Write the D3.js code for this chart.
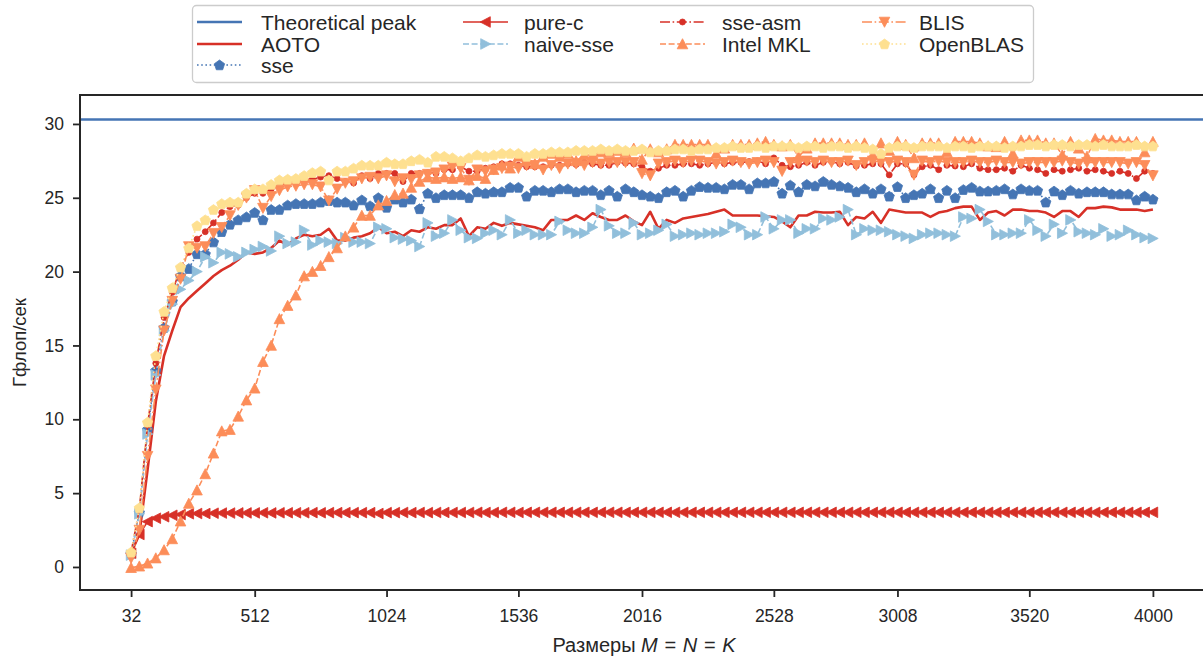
<!DOCTYPE html>
<html><head><meta charset="utf-8">
<script src="https://cdn.jsdelivr.net/npm/d3@7/dist/d3.min.js"></script>
<style>body{margin:0;background:#fff}svg{display:block;font-family:"Liberation Sans",Arial,sans-serif}</style>
</head><body><svg id="c" width="1203" height="659"></svg>
<script>
const sizes=[32,64,96,128,160,192,224,256,288,320,352,384,416,448,480,512,544,576,608,640,672,704,736,768,800,832,864,896,928,960,992,1024,1056,1088,1120,1152,1184,1216,1248,1280,1312,1344,1376,1408,1440,1472,1504,1536,1568,1600,1632,1664,1696,1728,1760,1792,1824,1856,1888,1920,1952,1984,2016,2048,2080,2112,2144,2176,2208,2240,2272,2304,2336,2368,2400,2432,2464,2496,2528,2560,2592,2624,2656,2688,2720,2752,2784,2816,2848,2880,2912,2944,2976,3008,3040,3072,3104,3136,3168,3200,3232,3264,3296,3328,3360,3392,3424,3456,3488,3520,3552,3584,3616,3648,3680,3712,3744,3776,3808,3840,3872,3904,3936,3968,4000];
const xTicks=[32,512,1024,1536,2016,2528,3008,3520,4000];
const yTicks=[0,5,10,15,20,25,30];
const theoreticalPeak=30.3;
const aoto=[0.95,2.2,6.6,11.2,14.3,16.0,17.6,18.2,18.7,19.2,
19.7,20.1,20.4,20.8,21.3,21.2,21.3,21.6,
22.1,21.8,22.25,22.5,22.4,22.5,22.9,22.1,22.1,22.3,22.4,22.6,23.0,22.6,22.7,22.4,22.8,22.7,23.0,22.9,23.15,23.15,23.6,
22.4,23.0,22.9,23.3,23.1,23.3,23.2,23.1,23.0,22.8,23.5,23.5,23.5,23.8,23.5,23.95,23.7,23.5,23.5,23.8,23.4,23.15,24.05,22.9,23.5,23.3,23.6,23.7,23.8,23.9,24.05,24.2,23.8,23.8,
23.8,23.8,23.75,23.7,23.4,23.0,23.8,23.8,24.05,24.0,24.0,24.05,23.15,23.7,23.6,24.05,23.3,24.2,24.1,24.0,24.0,24.0,23.7,24.0,24.1,24.3,24.4,24.4,23.5,24.0,24.1,23.8,24.2,24.2,24.1,24.1,24.0,23.7,24.1,24.1,23.7,24.3,24.3,24.4,24.35,24.2,24.2,24.2,24.1,24.2];
const sse=[0.9,3.7,9.3,13.3,16.2,18.0,19.7,20.2,21.2,21.2,
22.0,22.7,23.2,23.5,23.7,24.0,23.5,24.2,24.2,24.5,
24.6,24.6,24.6,24.7,24.8,24.7,24.7,24.5,24.85,24.45,
25.0,24.35,24.9,24.7,24.9,24.25,25.3,25.0,25.2,25.2,
25.2,25.0,25.4,25.3,25.4,25.4,25.7,25.7,25.1,25.5,
25.5,25.4,25.6,25.6,25.4,25.5,25.5,25.2,25.5,25.1,
25.6,25.4,25.2,25.1,25.0,25.4,25.5,25.1,25.5,25.75,
25.7,25.7,25.6,25.9,25.9,
25.6,26.0,26.0,26.1,25.3,25.85,25.4,25.9,25.8,26.1,25.9,25.8,25.7,25.4,25.6,25.3,25.6,25.1,25.75,25.0,25.2,25.3,25.6,25.0,25.5,25.0,25.55,25.7,25.45,25.45,25.5,25.6,25.25,25.6,25.5,25.5,24.7,25.45,25.2,25.5,25.3,25.4,25.4,25.4,25.25,25.25,25.25,24.85,25.1,24.9];
const pureC=[0.93,2.2,3.07,3.3,3.4,3.5,3.55,3.6,3.62,3.62,
3.64,3.65,3.65,3.66,3.66,3.66,3.67,3.66,3.67,3.67,
3.67,3.67,3.68,3.67,3.68,3.68,3.68,3.68,3.68,3.68,
3.62,3.68,3.68,3.69,3.68,3.69,3.68,3.69,3.69,3.69,
3.69,3.69,3.7,3.69,3.69,3.7,3.7,3.69,3.7,3.7,
3.7,3.7,3.7,3.7,3.7,3.7,3.7,3.7,3.7,3.7,
3.7,3.7,3.7,3.7,3.7,3.7,3.7,3.7,3.7,3.7,
3.7,3.7,3.7,3.7,3.7,3.7,3.7,3.7,3.7,3.7,
3.7,3.7,3.7,3.7,3.7,3.7,3.7,3.7,3.7,3.7,
3.7,3.7,3.7,3.7,3.7,3.7,3.7,3.7,3.7,3.7,
3.7,3.7,3.7,3.7,3.7,3.7,3.7,3.7,3.7,3.7,
3.7,3.7,3.7,3.7,3.7,3.7,3.7,3.7,3.7,3.7,
3.7,3.7,3.7,3.7,3.7];
const naiveSse=[0.8,3.6,9.0,13.0,16.0,17.8,18.8,19.4,20.0,21.0,
20.6,21.3,21.2,21.0,21.3,21.5,21.7,21.4,22.4,21.9,
22.0,22.8,21.8,22.1,22.0,21.9,22.3,22.0,22.0,21.9,
23.0,22.9,22.3,22.2,22.1,21.7,23.3,22.4,22.6,23.5,
22.8,22.3,22.25,22.6,22.8,22.5,23.5,22.6,22.8,22.5,
22.5,22.5,23.4,22.8,22.6,22.6,23.0,24.2,23.1,22.6,
22.6,23.3,22.5,22.6,22.8,23.2,22.4,22.5,22.6,22.5,
22.6,22.6,22.7,23.2,23.0,
22.5,22.5,23.7,22.9,23.5,23.5,22.6,22.9,22.9,23.6,23.5,23.7,24.2,22.5,22.9,22.8,22.8,22.7,22.5,22.4,22.25,22.5,22.6,22.6,22.5,22.4,23.7,23.6,24.2,23.4,22.5,22.5,22.6,22.6,23.5,22.8,22.4,23.2,22.6,23.5,22.7,22.6,22.5,22.9,22.4,22.5,22.8,22.5,22.3,22.25];
const sseAsm=[1.0,3.9,9.6,13.8,16.9,18.6,20.3,21.3,22.2,22.7,
23.3,24.0,24.4,24.5,25.0,25.3,25.3,25.6,25.8,26.0,
26.1,26.25,26.25,26.4,26.5,26.3,26.1,26.0,26.5,26.3,
26.65,26.65,26.65,26.1,26.65,26.65,26.7,26.65,
26.9,26.9,27.1,26.8,26.8,27.0,27.1,27.3,27.3,27.2,27.1,27.1,27.1,27.2,27.2,27.3,27.25,27.4,27.3,27.2,27.2,27.4,27.35,27.3,
27.1,26.8,27.0,27.2,27.2,27.3,27.3,27.2,27.3,27.4,27.3,27.4,27.4,
27.45,27.5,27.3,27.7,27.2,27.1,27.2,27.4,27.2,27.4,27.45,27.3,27.4,27.15,27.2,27.3,27.3,26.55,27.3,27.3,26.55,27.1,27.2,26.9,27.2,27.15,27.1,27.3,27.0,26.9,26.9,27.0,26.8,27.2,27.0,26.9,26.65,26.9,26.8,26.9,27.0,26.8,26.9,26.8,26.65,26.8,26.65,26.3,26.8,26.65];
const intelMkl=[-0.05,0.05,0.25,0.6,1.15,1.9,3.1,4.3,5.2,6.3,
7.7,9.2,9.3,10.2,11.3,12.1,13.9,15.0,16.8,17.7,
18.4,19.7,20.0,20.4,21.0,21.6,22.4,23.0,23.8,23.8,
24.5,24.8,25.2,25.3,25.7,26.1,26.4,26.3,26.4,26.3,
26.4,26.2,26.5,26.3,26.9,27.2,27.0,27.8,27.6,27.3,
27.8,28.0,27.8,28.0,27.5,27.9,27.9,28.1,28.1,28.2,
28.1,28.35,27.6,28.3,28.1,28.3,28.6,28.6,28.6,28.6,
28.6,28.0,28.35,28.6,28.6,
28.6,28.7,28.8,28.6,28.5,28.6,27.8,28.35,28.7,28.7,28.7,28.7,28.6,28.6,28.7,27.9,28.7,28.2,28.8,28.6,27.7,28.7,28.7,28.7,28.1,28.8,28.8,28.8,28.7,28.5,28.45,28.8,28.0,28.9,28.9,28.9,28.7,28.7,27.9,28.8,28.35,27.8,29.0,28.9,28.9,28.8,28.8,28.8,28.1,28.8];
const blis=[0.6,2.5,7.5,12.0,16.0,18.0,19.5,21.7,21.6,21.7,
22.6,23.0,23.8,24.5,25.0,25.5,24.3,25.1,25.5,25.75,
25.8,25.9,25.9,25.75,24.8,25.6,26.0,26.1,26.3,26.4,
26.3,26.5,26.1,26.3,26.25,26.5,26.6,26.7,26.9,27.1,
27.0,26.2,26.9,26.8,26.9,27.0,27.1,27.0,27.2,27.2,
26.9,27.2,27.0,27.3,27.3,27.2,27.4,27.3,27.4,27.4,
27.4,27.4,26.65,26.5,27.3,27.4,27.5,27.4,27.5,27.5,
27.4,27.3,27.4,27.5,27.4,27.3,27.4,27.5,27.4,26.8,
27.4,27.4,27.5,27.4,27.5,27.4,27.4,27.5,27.2,27.4,
27.5,27.4,27.4,27.5,27.4,26.55,27.5,27.4,27.5,27.4,
27.4,27.4,27.5,27.4,27.4,27.5,27.4,27.4,27.3,27.4,
27.4,27.4,27.4,27.5,27.4,27.3,27.4,27.4,27.4,27.4,
27.4,27.3,27.4,27.2,26.5];
const openBlas=[1.0,4.0,9.8,14.3,17.3,18.9,20.3,21.6,23.1,23.5,
24.2,24.6,24.7,24.7,25.3,25.6,25.6,25.9,26.2,26.25,
26.3,26.5,26.7,26.8,26.2,26.8,26.8,27.0,27.2,27.2,
27.2,27.4,27.3,27.3,27.5,27.6,27.4,27.8,27.8,27.7,
27.5,27.7,27.9,27.8,27.9,28.0,28.0,28.0,27.8,28.0,
28.0,28.1,28.1,28.1,28.2,28.2,28.2,28.3,28.2,28.3,
28.2,28.2,28.3,28.1,28.2,28.2,28.3,28.3,28.2,28.3,
28.3,28.4,28.4,28.5,28.4,28.4,28.5,28.4,28.5,28.5,
28.5,28.4,28.5,28.5,28.4,28.5,28.5,28.4,28.5,28.4,
28.3,28.0,28.4,28.5,28.5,28.4,28.5,28.5,28.5,28.4,
28.5,28.5,28.4,28.5,28.5,28.5,28.4,28.5,28.5,28.6,
28.6,28.5,28.6,28.6,28.5,28.6,28.6,28.5,28.6,28.5,
28.5,28.5,28.6,28.5,28.5];

const series=[
 {name:"AOTO",data:aoto,color:"#d73027",lw:2.6,dash:null,marker:null},
 {name:"sse",data:sse,color:"#4575b4",lw:1.6,dash:"1.6,2.6",marker:"pent"},
 {name:"pure-c",data:pureC,color:"#d73027",lw:1.6,dash:null,marker:"left"},
 {name:"naive-sse",data:naiveSse,color:"#91bfdb",lw:1.6,dash:"6,2.6",marker:"right"},
 {name:"sse-asm",data:sseAsm,color:"#d73027",lw:1.6,dash:"10,2.6,1.6,2.6",marker:"dot"},
 {name:"Intel MKL",data:intelMkl,color:"#fc8d59",lw:1.6,dash:"6,2.6",marker:"up"},
 {name:"BLIS",data:blis,color:"#fc8d59",lw:1.6,dash:"10,2.6,1.6,2.6",marker:"down"},
 {name:"OpenBLAS",data:openBlas,color:"#fee090",lw:1.6,dash:"1.6,2.6",marker:"pent"}
];

const svg=d3.select("#c");
const x=d3.scaleLinear().domain([-166.4,4198.4]).range([80,1204]);
const y=d3.scaleLinear().domain([-1.56,31.96]).range([590,95]);
const ink="#262626";

function markerPath(t){
  const a=5.3,b=4.8;
  if(t==="up")return `M0,${-a}L${a},${b}L${-a},${b}Z`;
  if(t==="down")return `M0,${a}L${a},${-b}L${-a},${-b}Z`;
  if(t==="left")return `M${-a},0L${b},${-a}L${b},${a}Z`;
  if(t==="right")return `M${a},0L${-b},${-a}L${-b},${a}Z`;
  if(t==="pent"){const p=[];for(let k=0;k<5;k++){const ang=-Math.PI/2+k*2*Math.PI/5;p.push([(5.4*Math.cos(ang)).toFixed(2),(5.4*Math.sin(ang)+0.4).toFixed(2)]);}return "M"+p.map(q=>q.join(",")).join("L")+"Z";}
  if(t==="dot")return d3.symbol(d3.symbolCircle,28)();
  return "";
}

svg.append("defs").append("clipPath").attr("id","clip").append("rect").attr("x",80).attr("y",95).attr("width",1124).attr("height",495);
const plot=svg.append("g").attr("clip-path","url(#clip)");

plot.append("line").attr("x1",80).attr("x2",1204).attr("y1",y(theoreticalPeak)).attr("y2",y(theoreticalPeak)).attr("stroke","#4575b4").attr("stroke-width",2.6);

const line=d3.line().x((d,i)=>x(sizes[i])).y(d=>y(d));
series.forEach(s=>{
  const g=plot.append("g");
  g.append("path").attr("d",line(s.data)).attr("fill","none").attr("stroke",s.color).attr("stroke-width",s.lw).attr("stroke-dasharray",s.dash).attr("stroke-linejoin","round");
  if(s.marker){
    g.selectAll("path.m").data(s.data).enter().append("path").attr("class","m")
     .attr("d",markerPath(s.marker)).attr("transform",(d,i)=>`translate(${x(sizes[i])},${y(d)})`)
     .attr("fill",s.color).attr("stroke",s.color).attr("stroke-width",0.8);
  }
});

// axes
const xAxis=d3.axisBottom(x).tickValues(xTicks).tickSize(7).tickPadding(13).tickFormat(d3.format("d"));
const gx=svg.append("g").attr("transform","translate(0,590)").call(xAxis);
const yAxis=d3.axisLeft(y).tickValues(yTicks).tickSize(7).tickPadding(9);
const gy=svg.append("g").attr("transform","translate(80,0)").call(yAxis);
[gx,gy].forEach(g=>{g.select(".domain").remove();g.selectAll(".tick line").attr("stroke",ink).attr("stroke-width",1.8);g.selectAll(".tick text").attr("fill",ink).attr("font-size",17.5).attr("font-family","Liberation Sans, Arial, sans-serif");});
// spines
svg.append("rect").attr("x",80).attr("y",95).attr("width",1124).attr("height",495).attr("fill","none").attr("stroke",ink).attr("stroke-width",2);

// axis labels
const xl=svg.append("text").attr("x",644).attr("y",652).attr("text-anchor","middle").attr("font-size",20).attr("fill",ink).attr("xml:space","preserve");
xl.append("tspan").text("Размеры ");
xl.append("tspan").attr("font-style","italic").text("M");
xl.append("tspan").text("\u2004=\u2004");
xl.append("tspan").attr("font-style","italic").text("N");
xl.append("tspan").text("\u2004=\u2004");
xl.append("tspan").attr("font-style","italic").text("K");
svg.append("text").attr("transform","translate(26,342.5) rotate(-90)").attr("text-anchor","middle").attr("font-size",18.5).attr("fill",ink).text("Гфлоп/сек");

// legend
const lg=svg.append("g");
lg.append("rect").attr("x",192.5).attr("y",5.5).attr("width",841).attr("height",77).attr("rx",4).attr("fill","#fff").attr("stroke","#cccccc").attr("stroke-width",1.3);
const legendItems=[
 {name:"Theoretical peak",color:"#4575b4",lw:2.6,dash:null,marker:null,col:0,row:0},
 {...series[0],col:0,row:1},{...series[1],col:0,row:2},
 {...series[2],col:1,row:0},{...series[3],col:1,row:1},
 {...series[4],col:2,row:0},{...series[5],col:2,row:1},
 {...series[6],col:3,row:0},{...series[7],col:3,row:1}
];
const colX=[197,463,660,862], textX=[261,524,722,919], rowY=[22,44,65];
legendItems.forEach(it=>{
  const x0=colX[it.col], yy=rowY[it.row];
  lg.append("line").attr("x1",x0).attr("x2",x0+45).attr("y1",yy).attr("y2",yy).attr("stroke",it.color).attr("stroke-width",it.lw).attr("stroke-dasharray",it.dash);
  if(it.marker) lg.append("path").attr("d",markerPath(it.marker)).attr("transform",`translate(${x0+22.5},${yy})`).attr("fill",it.color).attr("stroke",it.color).attr("stroke-width",0.8);
  lg.append("text").attr("x",textX[it.col]).attr("y",yy+7.5).attr("font-size",21).attr("fill",ink).text(it.name);
});
</script></body></html>
